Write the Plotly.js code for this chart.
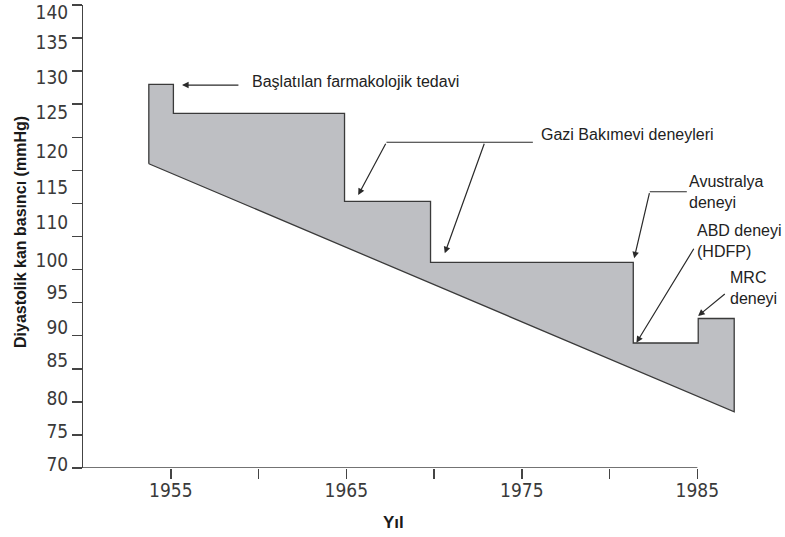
<!DOCTYPE html>
<html>
<head>
<meta charset="utf-8">
<script src="https://cdn.plot.ly/plotly-3.0.1.min.js"></script>
<style>
  html, body { margin: 0; padding: 0; background: #ffffff; }
  #chart { width: 785px; height: 537px; }
</style>
</head>
<body>
<div id="chart"></div>
<script>
// Treatment threshold steps: each level starts at the given year
const thresholdYears  = [1953.75, 1955.15, 1964.9, 1969.8, 1981.35, 1985.05, 1987.1];
const thresholdLevels = [128, 123.6, 110.3, 101.1, 88.9, 92.6];

// Lower boundary of the shaded band (straight decline)
const baselineYears  = [1953.75, 1987.1];
const baselineLevels = [116, 78.5];

// Axis labels
const xTickYears  = [1955, 1960, 1965, 1970, 1975, 1980, 1985];
const xTickLabels = ['1955', '', '1965', '', '1975', '', '1985'];
const yTickLabels = ['140', '135', '130', '125', '120', '115', '110', '100', '95', '90', '85', '80', '75', '70'];

// Callout texts
const calloutTexts = [
  'Başlatılan farmakolojik tedavi',
  'Gazi Bakımevi deneyleri',
  'Avustralya<br>deneyi',
  'ABD deneyi<br>(HDFP)',
  'MRC<br>deneyi'
];

// Build the closed band outline: steps along the top, then the sloping base
const bandX = [baselineYears[0]];
const bandY = [baselineLevels[0]];
for (let i = 0; i < thresholdLevels.length; i++) {
  bandX.push(thresholdYears[i], thresholdYears[i + 1]);
  bandY.push(thresholdLevels[i], thresholdLevels[i]);
}
bandX.push(baselineYears[1], baselineYears[0]);
bandY.push(baselineLevels[1], baselineLevels[0]);

const axisColor = '#444444';
const tickFont = { family: 'Liberation Sans Narrow, DejaVu Sans Condensed, Arial Narrow, sans-serif', size: 19, color: '#3a3a3a' };
const noteFont = { family: 'Liberation Sans, Arial, sans-serif', size: 16, color: '#222222' };
const arrowColor = '#2a2a2a';

// Label placement along the vertical axis (as typeset on the printed scale)
const yLabelAt = [138.9, 134.3, 129.0, 123.7, 117.8, 112.5, 107.2, 101.4, 96.5, 91.2, 86.3, 80.6, 75.5, 70.5];

const traces = [
  {
    type: 'scatter',
    mode: 'lines',
    x: bandX,
    y: bandY,
    fill: 'toself',
    fillcolor: '#bebfc3',
    line: { color: '#3a3a3a', width: 1.3 },
    hoverinfo: 'skip',
    showlegend: false
  },
  {
    type: 'scatter',
    mode: 'lines',
    x: [],
    y: [],
    yaxis: 'y2',
    hoverinfo: 'skip',
    showlegend: false
  }
];

function arrow(xHead, yHead, xTail, yTail) {
  return {
    x: xHead, y: yHead, xref: 'x', yref: 'y',
    ax: xTail, ay: yTail, axref: 'x', ayref: 'y',
    text: '', showarrow: true,
    arrowhead: 2, arrowsize: 1.1, arrowwidth: 1.2, arrowcolor: arrowColor,
    standoff: 0, startstandoff: 0
  };
}

function note(text, x, y) {
  return {
    x: x, y: y, xref: 'x', yref: 'y',
    text: text, showarrow: false,
    xanchor: 'left', yanchor: 'middle', align: 'left',
    font: noteFont
  };
}

const layout = {
  width: 785,
  height: 537,
  margin: { l: 83, r: 35, t: 5, b: 69, pad: 0 },
  paper_bgcolor: '#ffffff',
  plot_bgcolor: '#ffffff',
  showlegend: false,
  xaxis: {
    range: [1950, 1988],
    tickmode: 'array',
    tickvals: xTickYears,
    ticktext: xTickLabels,
    ticks: 'outside',
    ticklen: 10,
    tickwidth: 1.5,
    tickcolor: axisColor,
    tickfont: tickFont,
    ticklabelstandoff: -5,
    showline: false,
    showgrid: false,
    zeroline: false,
    fixedrange: true
  },
  yaxis: {
    range: [70, 140],
    tickmode: 'linear',
    tick0: 70,
    dtick: 5,
    ticks: 'outside',
    ticklen: 10,
    tickwidth: 1.5,
    tickcolor: axisColor,
    showticklabels: false,
    showline: true,
    linecolor: axisColor,
    linewidth: 1.5,
    showgrid: false,
    zeroline: false,
    fixedrange: true
  },
  yaxis2: {
    overlaying: 'y',
    anchor: 'x',
    side: 'left',
    range: [70, 140],
    tickmode: 'array',
    tickvals: yLabelAt,
    ticktext: yTickLabels,
    ticks: 'outside',
    ticklen: 10,
    tickcolor: 'rgba(0,0,0,0)',
    tickfont: tickFont,
    showline: false,
    showgrid: false,
    zeroline: false,
    fixedrange: true
  },
  shapes: [
    // horizontal axis line, ending at 1985
    { type: 'line', xref: 'x', yref: 'y', x0: 1950, x1: 1985, y0: 70, y1: 70,
      line: { color: axisColor, width: 1.5 } },
    // leader lines of the callouts
    { type: 'line', xref: 'x', yref: 'y', x0: 1967.29, x1: 1975.63, y0: 119.24, y1: 119.24,
      line: { color: arrowColor, width: 1.1 } },
    { type: 'line', xref: 'x', yref: 'y', x0: 1982.29, x1: 1984.40, y0: 111.77, y1: 111.77,
      line: { color: arrowColor, width: 1.1 } }
  ],
  annotations: [
    note(calloutTexts[0], 1959.5, 128.5),
    arrow(1955.64, 127.9, 1958.94, 127.9),

    note(calloutTexts[1], 1976.0, 120.35),
    arrow(1965.68, 111.27, 1967.29, 119.24),
    arrow(1970.61, 102.46, 1972.89, 119.24),

    note(calloutTexts[2], 1984.4, 111.77),
    arrow(1981.40, 101.7, 1982.29, 111.77),

    note(calloutTexts[3], 1984.85, 104.28),
    arrow(1981.53, 88.94, 1984.85, 103.37),

    note(calloutTexts[4], 1986.72, 97.17),
    arrow(1985.04, 92.98, 1986.65, 96.5),

    // axis titles
    {
      xref: 'paper', yref: 'paper',
      x: (20 - 83) / 667, y: (468 - 232) / 463,
      xanchor: 'center', yanchor: 'middle',
      text: 'Diyastolik kan basıncı (mmHg)', textangle: -90, showarrow: false,
      font: { family: 'Liberation Sans, Arial, sans-serif', size: 16, weight: 700, color: '#1a1a1a' }
    },
    {
      xref: 'paper', yref: 'paper',
      x: (393 - 83) / 667, y: (468 - 522) / 463,
      xanchor: 'center', yanchor: 'middle',
      text: 'Yıl', showarrow: false,
      font: { family: 'Liberation Sans, Arial, sans-serif', size: 17, weight: 700, color: '#1a1a1a' }
    }
  ]
};

Plotly.newPlot('chart', traces, layout, { displayModeBar: false, staticPlot: true });
</script>
</body>
</html>
